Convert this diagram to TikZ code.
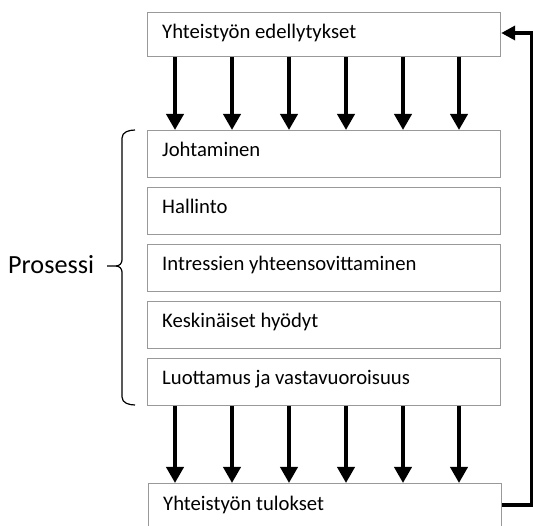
\documentclass[tikz,border=0pt]{standalone}
\usepackage{fontspec}
\setmainfont{Carlito}
\usetikzlibrary{arrows.meta}
\begin{document}
\begin{tikzpicture}[x=1pt,y=-1pt,
  boxst/.style={draw=black!40,line width=1.2pt,fill=white,rectangle,minimum width=353pt,inner sep=0pt,anchor=north west},
  txt/.style={anchor=base west,inner sep=0pt,font=\fontsize{20.7}{24}\selectfont},
  darr/.style={line width=3.8pt,-{Triangle[width=17pt,length=16pt]}},
  farr/.style={line width=4pt,-{Triangle[width=14pt,length=14pt]}}]
\useasboundingbox (0,0) rectangle (533,526);
\node[boxst,minimum height=44pt] (pre) at (147,12) {};
\node[boxst,minimum height=47pt] (b1) at (147,130) {};
\node[boxst,minimum height=47pt] (b2) at (147,187) {};
\node[boxst,minimum height=47pt] (b3) at (147,244) {};
\node[boxst,minimum height=47pt] (b4) at (147,301) {};
\node[boxst,minimum height=47pt] (b5) at (147,358) {};
\node[boxst,minimum height=50pt] (res) at (148,483) {};
\node[txt] (tpre) at (162,38.3) {Yhteistyön edellytykset};
\node[txt] (t1) at (162,156.5) {Johtaminen};
\node[txt] (t2) at (162,213.5) {Hallinto};
\node[txt] (t3) at (162,270.5) {Intressien yhteensovittaminen};
\node[txt] (t4) at (162,327.5) {Keskinäiset hyödyt};
\node[txt] (t5) at (162,384.5) {Luottamus ja vastavuoroisuus};
\node[txt] (tres) at (163,510) {Yhteistyön tulokset};
\node[anchor=base west,inner sep=0pt,font=\fontsize{26.2}{30}\selectfont] (pros) at (8,273.3) {Prosessi};
\foreach \x in {175,232,289,346,403,459}{
  \draw[darr] (pre.south -| \x,0) -- (b1.north -| \x,0);
  \draw[darr] (b5.south -| \x,0) -- (res.north -| \x,0);
}
\draw[line width=1.2pt] (135,130) to[out=180,in=90] (122,138) -- (122,260)
  to[out=270,in=0] (116,266) -- (107,266);
\draw[line width=1.2pt] (116,266) to[out=0,in=90] (122,272) -- (122,397)
  to[out=270,in=180] (135,405);
\coordinate (c1) at (531.5,505);
\coordinate (c2) at (531.5,33);
\draw[farr] (res.east |- c1) -- (c1) -- (c2) -- (pre.east |- c2);
\end{tikzpicture}
\end{document}
